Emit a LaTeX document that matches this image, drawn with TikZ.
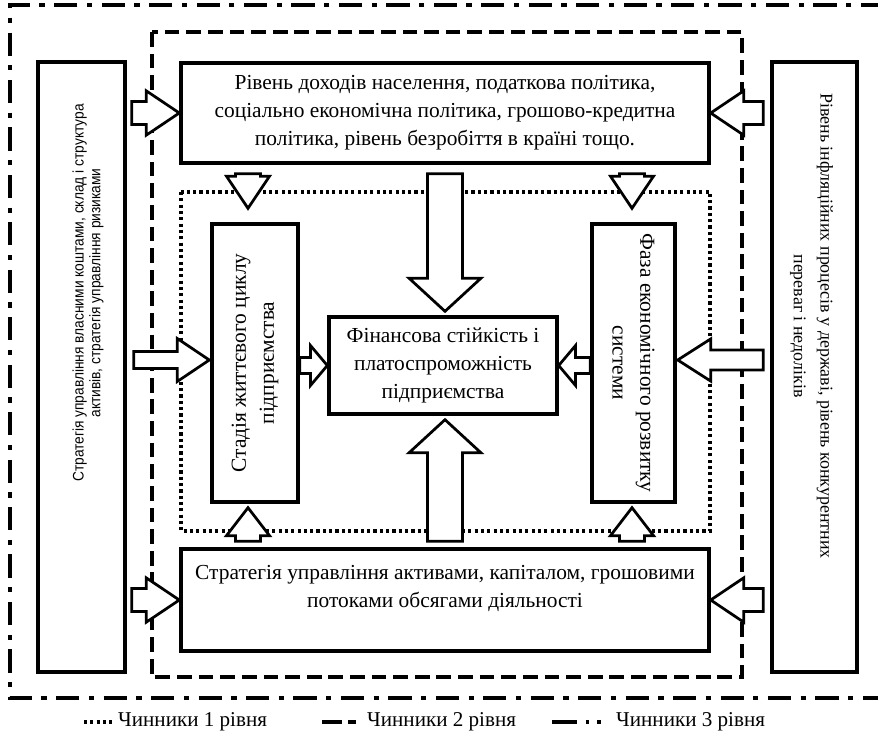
\documentclass[tikz,border=0pt]{standalone}
\usepackage{fontspec}
\setmainfont{Liberation Serif}
\newfontfamily\narrowsans[FakeStretch=0.9]{Liberation Sans}
\usetikzlibrary{calc}

% block arrow: from, to, half shaft, half head, head length
\newcommand{\blockarr}[5]{%
  \coordinate (ah) at ($(#2)!#5!(#1)$);
  \draw[blockarrow] ($(#1)!#3!90:(#2)$) -- ($(ah)!#3!-90:(#1)$) -- ($(ah)!#4!-90:(#1)$) -- (#2)
    -- ($(ah)!#4!90:(#1)$) -- ($(ah)!#3!90:(#1)$) -- ($(#1)!#3!-90:(#2)$) -- cycle;}

\tikzset{
  box/.style={draw, line width=3.2pt, fill=white, align=center, inner sep=0pt,
    font=\fontsize{20.3pt}{26.5pt}\selectfont},
  blockarrow/.style={draw, line width=2.6pt, fill=white, line join=miter},
  lvlone/.style={line width=3pt, dash pattern=on 3pt off 3pt},
  lvltwo/.style={line width=3pt, dash pattern=on 14pt off 6.5pt},
  lvlthree/.style={line width=3.2pt, dash pattern=on 22pt off 9pt on 5pt off 9pt},
  legtext/.style={anchor=west, inner sep=0pt, font=\fontsize{20pt}{22pt}\selectfont},
}

\begin{document}
\begin{tikzpicture}[x=1cm/30, y=-1cm/30]
  \useasboundingbox (0,0) rectangle (878,742);

  %%% frames
  \draw[lvlthree] (884,5) -- (10,5) -- (10,698) -- (884,698);
  \draw[lvltwo] (152,32) rectangle (742,677);
  \draw[lvlone] (181,192) rectangle (710,531);

  %%% boxes
  \node[box, minimum width=17.6cm, minimum height=3.333cm] (top) at (445,113)
    {Рівень доходів населення, податкова політика,\\
     соціально економічна політика, грошово-кредитна\\
     політика, рівень безробіття в країні тощо.};
  \node[box, minimum width=17.6cm, minimum height=3.4cm] (bot) at (445,600)
    {Стратегія управління активами, капіталом, грошовими\\
     потоками обсягами діяльності\\ \mbox{}};
  \node[box, minimum width=7.6cm, minimum height=3.233cm] (center) at (443,365.5)
    {Фінансова стійкість і\\ платоспроможність\\ підприємства};
  \node[box, rotate=90, minimum width=9.267cm, minimum height=2.867cm] (lstage) at (255,363)
    {Стадія життєвого циклу\\ підприємства};
  \node[box, rotate=-90, minimum width=9.267cm, minimum height=2.767cm] (rstage) at (633.5,363)
    {Фаза економічного розвитку\\ системи};

  \node[box, minimum width=2.9cm, minimum height=20.333cm] (lbox) at (81.5,367) {};
  \node[rotate=90, align=center, inner sep=0pt,
    font=\narrowsans\fontsize{14.5pt}{16pt}\selectfont] (lboxtext) at (88,293)
    {Стратегія управління власними коштами, склад і структура\\
     активів, стратегія управління ризиками};
  \node[box, minimum width=2.833cm, minimum height=20.333cm] (rbox) at (814.5,367) {};
  \node[rotate=-90, align=center, inner sep=0pt,
    font=\fontsize{17pt}{25.5pt}\selectfont] (rboxtext) at (811.5,326)
    {Рівень інфляційних процесів у державі, рівень конкурентних\\
     переваг і недоліків};

  %%% arrows
  \blockarr{$(top.south -| lstage)+(-7,9)$}{$(lstage.east)+(-7,-14)$}{11.9pt}{20.4pt}{30.4pt}
  \blockarr{$(top.south -| rstage)+(-1.5,9)$}{$(rstage.west)+(-1.5,-14)$}{11.9pt}{20.4pt}{30.4pt}
  \blockarr{$(top.south -| center)+(2,9)$}{$(center.north)+(2,-4)$}{16.6pt}{34pt}{31.3pt}
  \blockarr{$(bot.north -| center)+(2,-6)$}{$(center.south)+(2,4)$}{16.6pt}{34pt}{31.3pt}
  \blockarr{$(bot.north -| lstage)+(-7,-6)$}{$(lstage.west)+(-7,4)$}{11.9pt}{20.4pt}{26.5pt}
  \blockarr{$(bot.north -| rstage)+(-1.5,-6)$}{$(rstage.east)+(-1.5,4)$}{11.9pt}{20.4pt}{26.5pt}

  \blockarr{$(lbox.east |- top)+(5,0)$}{top.west}{10.9pt}{21pt}{31.3pt}
  \blockarr{$(lbox.east |- bot)+(5,0)$}{bot.west}{10.9pt}{21pt}{31.3pt}
  \blockarr{$(lbox.east |- lstage)+(7,-3)$}{$(lstage.north)+(-1,-3)$}{8pt}{20.4pt}{30.4pt}
  \blockarr{$(rbox.west |- top)+(-7,0)$}{top.east}{10.9pt}{21pt}{31.3pt}
  \blockarr{$(rbox.west |- bot)+(-7,0)$}{bot.east}{10.9pt}{21pt}{31.3pt}
  \blockarr{$(rbox.west |- rstage)+(-7,-3)$}{$(rstage.north)+(1,-3)$}{9.5pt}{20pt}{31.3pt}

  \blockarr{lstage.south |- center}{center.west}{7.6pt}{19pt}{16pt}
  \blockarr{rstage.south |- center}{center.east}{7.6pt}{19pt}{16pt}

  %%% legend
  \node[legtext] (lgone) at (118,722) {Чинники 1 рівня};
  \node[legtext] (lgtwo) at (367,722) {Чинники 2 рівня};
  \node[legtext] (lgthree) at (616,722) {Чинники 3 рівня};
  \draw[line width=3pt, dash pattern=on 3pt off 3pt] ($(lgone.west)+(-34,0)$) -- ($(lgone.west)+(-6,0)$);
  \draw[line width=3pt, dash pattern=on 19pt off 6pt on 7pt off 20pt] ($(lgtwo.west)+(-45,0)$) -- ($(lgtwo.west)+(-11,0)$);
  \draw[line width=3pt, dash pattern=on 24pt off 8pt on 3pt off 8pt on 3pt off 20pt] ($(lgthree.west)+(-64,0)$) -- ($(lgthree.west)+(-9,0)$);
\end{tikzpicture}
\end{document}
